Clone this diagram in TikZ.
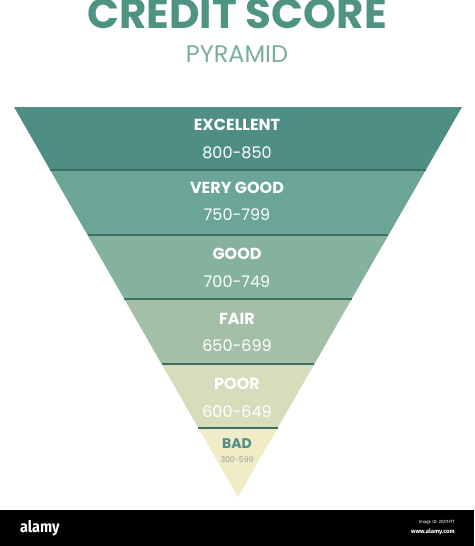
\documentclass[tikz,border=0pt]{standalone}
\usepackage{fontspec}
\setmainfont{Poppins}
\newfontfamily\markfont{Fira Sans}
\usetikzlibrary{calc}
\definecolor{title}{HTML}{4F9383}
\definecolor{excellent}{HTML}{4E8E84}
\definecolor{verygood}{HTML}{6AA596}
\definecolor{good}{HTML}{85B29F}
\definecolor{fair}{HTML}{A3C0A7}
\definecolor{poor}{HTML}{D6DDBB}
\definecolor{bad}{HTML}{F0ECC8}
\definecolor{divider}{HTML}{3F6F64}
\definecolor{badrange}{HTML}{8C9E90}
\tikzset{%
  grade/.style={font=\fontsize{16}{16}\selectfont\bfseries, text=white},% band name
  scorerange/.style={font=\fontsize{16}{16}\selectfont, text=white},% score range
  divider/.style={line width=1.6pt, draw=divider},% line between bands
  wmark/.style={text=white, inner sep=0pt}% watermark strip
}

\begin{document}
\begin{tikzpicture}[x=1pt, y=-1pt]
\useasboundingbox (0,0) rectangle (474,546);

% heading
\node[font=\fontsize{42}{42}\selectfont\bfseries, text=title] (head) at (237,14) {CREDIT SCORE};
\node[font=\fontsize{24}{24}\selectfont, text=title!75] (sub) at (237,54) {PYRAMID};

% pyramid corners
\coordinate (tl) at (14,107);
\coordinate (tr) at (462,107);
\coordinate (ap) at (238,497);

\foreach \ya/\yb/\col in {107/170/excellent, 170/235/verygood, 235/299/good,
                          299/364/fair, 364/428/poor, 428/497/bad}{
  \pgfmathsetmacro\ta{(\ya-107)/390}
  \pgfmathsetmacro\tb{(\yb-107)/390}
  \fill[\col] ($(tl)!\ta!(ap)$) -- ($(tr)!\ta!(ap)$) -- ($(tr)!\tb!(ap)$) -- ($(tl)!\tb!(ap)$) -- cycle;
}
\foreach \y in {170,235,299,364,428}{
  \pgfmathsetmacro\t{(\y-107)/390}
  \draw[divider] ($(tl)!\t!(ap)$) -- ($(tr)!\t!(ap)$);
}

% labels
\node[grade] (excellent) at (237,125) {EXCELLENT};
\node[scorerange] (r800) at (237,153) {800-850};
\node[grade] (verygood) at (237,188) {VERY GOOD};
\node[scorerange] (r750) at (237,215) {750-799};
\node[grade] (good) at (237,254) {GOOD};
\node[scorerange] (r700) at (237,282) {700-749};
\node[grade] (fair) at (237,319) {FAIR};
\node[scorerange] (r650) at (237,346) {650-699};
\node[grade] (poor) at (237,384) {POOR};
\node[scorerange] (r600) at (237,412) {600-649};
\node[grade, font=\fontsize{14}{14}\selectfont\bfseries, text=excellent] (bad) at (237,444) {BAD};
\node[font=\fontsize{7.7}{8}\selectfont, text=badrange] (r300) at (237,460) {300-599};

% watermark strip
\fill[black] (0,510) rectangle (474,546);
\node[wmark, font=\markfont\fontsize{16}{16}\selectfont\bfseries, anchor=west, xscale=0.9] (alamy) at (20,528) {alamy};
\node[wmark, font=\markfont\fontsize{4.5}{5}\selectfont, anchor=east] (imgid) at (455,522) {Image ID: 2JD7HTT};
\node[wmark, font=\markfont\fontsize{6}{6}\selectfont\bfseries, anchor=east] (www) at (455,532) {www.alamy.com};
\end{tikzpicture}
\end{document}
